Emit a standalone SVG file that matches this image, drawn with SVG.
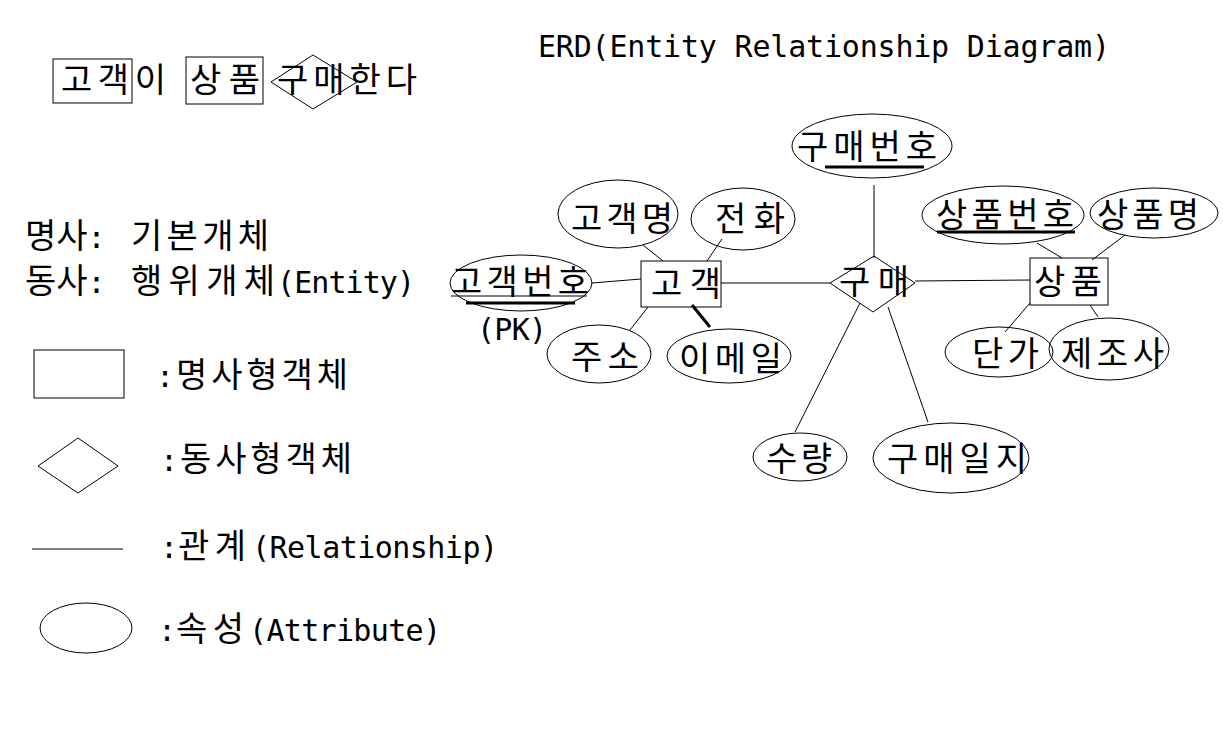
<svg xmlns="http://www.w3.org/2000/svg" width="1223" height="737" viewBox="0 0 1223 737">
<style>
text{font-family:"DejaVu Sans Mono","Noto Sans CJK KR",monospace;font-size:34px;fill:#000}
.l{font-size:30px}
.s{fill:none;stroke:#000;stroke-width:1}
.u{stroke:#000;stroke-width:3}
</style>
<rect width="1223" height="737" fill="#fff"/>
<g id="sentence">
<rect class="s" x="53" y="59" width="79" height="44"/>
<rect class="s" x="186" y="57" width="77" height="47"/>
<text x="61" y="92" textLength="105" lengthAdjust="spacing">고객이</text>
<text x="190" y="92" textLength="70" lengthAdjust="spacing">상품</text>
<text x="277" y="92" textLength="140" lengthAdjust="spacing">구매한다</text>
<polygon class="s" points="271,82 313,55 357,82 313,109"/>
</g>
<text id="title" class="l" x="538" y="57" textLength="572" lengthAdjust="spacing">ERD(Entity Relationship Diagram)</text>
<g id="notes">
<text x="25" y="248">명사<tspan class="l">:</tspan></text>
<text x="131" y="248" textLength="138" lengthAdjust="spacing">기본개체</text>
<text x="25" y="293">동사<tspan class="l">:</tspan></text>
<text x="131" y="293" textLength="144" lengthAdjust="spacing">행위개체</text>
<text class="l" x="277" y="293" textLength="138" lengthAdjust="spacing">(Entity)</text>
</g>
<g id="legend">
<rect class="s" x="34" y="350" width="90" height="48"/>
<text class="l" x="156" y="387">:</text>
<text x="176" y="387" textLength="172" lengthAdjust="spacing">명사형객체</text>
<polygon class="s" points="38,466 78,438 118,466 78,493"/>
<text class="l" x="160" y="471">:</text>
<text x="180" y="471" textLength="172" lengthAdjust="spacing">동사형객체</text>
<line class="s" x1="32" y1="549" x2="123" y2="549"/>
<text class="l" x="160" y="558">:</text>
<text x="178" y="558" textLength="68" lengthAdjust="spacing">관계</text>
<text class="l" x="252" y="558" textLength="246" lengthAdjust="spacing">(Relationship)</text>
<ellipse class="s" cx="86" cy="628" rx="46" ry="25"/>
<text class="l" x="158" y="641">:</text>
<text x="176" y="641" textLength="68" lengthAdjust="spacing">속성</text>
<text class="l" x="249" y="641" textLength="192" lengthAdjust="spacing">(Attribute)</text>
</g>
<g id="connectors">
<line class="s" x1="592" y1="283" x2="641" y2="279"/>
<line class="s" x1="643" y1="245" x2="663" y2="261"/>
<line class="s" x1="722" y1="239" x2="707" y2="261"/>
<line class="s" x1="630" y1="330" x2="648" y2="307"/>
<line class="u" x1="692" y1="305" x2="710" y2="327"/>
<line class="s" x1="721" y1="283" x2="830" y2="283"/>
<line class="s" x1="874" y1="185" x2="874" y2="258"/>
<line class="s" x1="915" y1="281" x2="1030" y2="280"/>
<line class="s" x1="1037" y1="243" x2="1062" y2="258"/>
<line class="s" x1="1125" y1="235" x2="1092" y2="260"/>
<line class="s" x1="1005" y1="332" x2="1030" y2="303"/>
<line class="s" x1="1098" y1="317" x2="1090" y2="305"/>
<line class="s" x1="860" y1="303" x2="795" y2="432"/>
<line class="s" x1="888" y1="307" x2="928" y2="422"/>
</g>
<g id="n-customer">
<rect class="s" x="641" y="261" width="80" height="46"/>
<text x="651" y="296" textLength="70" lengthAdjust="spacing">고객</text>
</g>
<g id="a-custname">
<ellipse class="s" cx="618" cy="214" rx="60" ry="34"/>
<text x="571" y="231" textLength="102" lengthAdjust="spacing">고객명</text>
</g>
<g id="a-phone">
<ellipse class="s" cx="743" cy="219" rx="52" ry="31"/>
<text x="715" y="231" textLength="70" lengthAdjust="spacing">전화</text>
</g>
<g id="a-custno">
<ellipse class="s" cx="521" cy="283" rx="71" ry="28"/>
<text x="451" y="294" textLength="138" lengthAdjust="spacing">고객번호</text>
<line class="s" x1="451" y1="296" x2="587" y2="296"/>
<line class="u" x1="466" y1="303" x2="575" y2="303"/>
<text class="l" x="477" y="340" textLength="70" lengthAdjust="spacing">(PK)</text>
</g>
<g id="a-addr">
<ellipse class="s" cx="599" cy="354" rx="52" ry="29"/>
<text x="571" y="369" textLength="68" lengthAdjust="spacing">주소</text>
</g>
<g id="a-email">
<ellipse class="s" cx="729" cy="356" rx="62" ry="27"/>
<text x="679" y="371" textLength="103" lengthAdjust="spacing">이메일</text>
</g>
<g id="r-purchase">
<polygon class="s" points="830,283 874,256 915,283 873,312"/>
<text x="839" y="294" textLength="70" lengthAdjust="spacing">구매</text>
</g>
<g id="a-purchno">
<ellipse class="s" cx="872" cy="146" rx="80" ry="32"/>
<text x="797" y="159" textLength="140" lengthAdjust="spacing">구매번호</text>
<line class="u" x1="825" y1="167" x2="924" y2="167"/>
</g>
<g id="a-qty">
<ellipse class="s" cx="800" cy="457" rx="47" ry="24"/>
<text x="766" y="471" textLength="66" lengthAdjust="spacing">수량</text>
</g>
<g id="a-purchdate">
<ellipse class="s" cx="951" cy="458" rx="78" ry="35"/>
<text x="887" y="471" textLength="140" lengthAdjust="spacing">구매일지</text>
</g>
<g id="n-product">
<rect class="s" x="1030" y="258" width="78" height="47"/>
<text x="1034" y="294" textLength="68" lengthAdjust="spacing">상품</text>
</g>
<g id="a-prodno">
<ellipse class="s" cx="1003" cy="215" rx="81" ry="29"/>
<text x="936" y="227" textLength="138" lengthAdjust="spacing">상품번호</text>
<line class="u" x1="937" y1="232" x2="1075" y2="232"/>
</g>
<g id="a-prodname">
<ellipse class="s" cx="1154" cy="213" rx="64" ry="25"/>
<text x="1097" y="227" textLength="102" lengthAdjust="spacing">상품명</text>
</g>
<g id="a-price">
<ellipse class="s" cx="999" cy="352" rx="54" ry="25"/>
<text x="972" y="366" textLength="67" lengthAdjust="spacing">단가</text>
</g>
<g id="a-maker">
<ellipse class="s" cx="1109" cy="349" rx="60" ry="31"/>
<text x="1061" y="366" textLength="103" lengthAdjust="spacing">제조사</text>
</g>
</svg>
